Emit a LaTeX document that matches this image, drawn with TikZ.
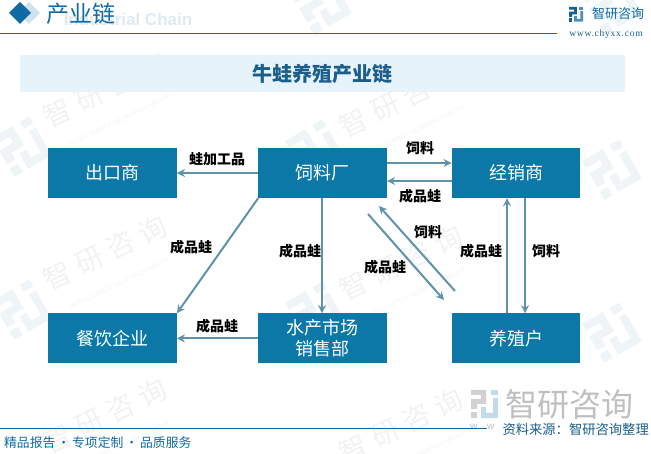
\documentclass[tikz,border=0pt]{standalone}
\usepackage{fontspec}
\setmainfont{Noto Sans CJK SC}
\newfontfamily\latinfont{Liberation Sans}
\newfontfamily\sitefont[LetterSpace=8]{Liberation Serif}
\newfontfamily\widefont[LetterSpace=98]{Liberation Sans}
\newfontfamily\markfont[LetterSpace=25]{Noto Sans CJK SC}
\usetikzlibrary{arrows.meta, positioning}
\definecolor{boxblue}{HTML}{0B78A8}
\definecolor{linkblue}{HTML}{5E93AB}
\definecolor{headblue}{HTML}{0F6AA6}
\definecolor{bandblue}{HTML}{E6F3FA}
\definecolor{titleblue}{HTML}{1B5E8C}
\definecolor{markgrey}{HTML}{F1F2F3}
\definecolor{markblue}{HTML}{EFF4F7}
\tikzset{
  chainbox/.style={rectangle, fill=boxblue, text=white, minimum width=128.5pt, minimum height=50pt,
                   align=center, inner sep=0pt, font=\fontsize{18}{21}\selectfont},
  link/.style={-{Stealth[length=8pt,width=8pt]}, line width=2pt, draw=linkblue},
  linklabel/.style={font=\fontsize{14}{16}\selectfont\bfseries, text=black, inner sep=0pt},
  watermark/.style={font=\markfont\fontsize{28}{29}\selectfont, text=markgrey, rotate=26, inner sep=0pt, align=center},
  logomark/.pic={
    \fill[logoleft] (0,0) -- (15,0) -- (15,14) -- (6,14) -- (6,19) -- (0,19) -- (0,9) -- (10,9) -- (10,5) -- (0,5) -- cycle;
    \fill[logoleft] (0,22) rectangle (6,28);
    \fill[logoright] (20,0) rectangle (27,5);
    \fill[logoright] (27,8) -- (27,28) -- (10,28) -- (10,17) -- (15,17) -- (15,23) -- (22,23) -- (22,8) -- cycle;
  },
}
\begin{document}
\begin{tikzpicture}[x=1pt, y=-1pt, node distance=115pt and 81.25pt]
  \useasboundingbox (0,0) rectangle (651,454);

  % --- watermarks ---
  \colorlet{logoleft}{markblue}
  \colorlet{logoright}{markblue}
  \foreach \wx/\wy in {22/147, 22/310, 315/150, 315/312, 612/170, 612/333, 322/5, 612/5}
    \pic[rotate=30, scale=1.6] at ({\wx-30},{\wy-9}) {logomark};
  \foreach \wx/\wy in {107/95, 107/258, 107/421, 403/105, 403/268, 403/431}
    \node[watermark] (mark\wx\wy) at ({\wx+3},{\wy+5}) {智研咨询\\[-3pt]{\latinfont\fontsize{6.5}{8}\selectfont INTELLIGENCE RESEARCH GROUP}};

  % --- header ---
  \node[text=headblue!14, font=\latinfont\fontsize{17}{20}\selectfont\bfseries, inner sep=0pt] (ghost) at (128,19) {Industrial Chain};
  \fill[headblue!20] (29,2) -- (40,13) -- (29,24) -- (18,13) -- cycle;
  \fill[headblue] (20,2) -- (31,13) -- (20,24) -- (9,13) -- cycle;
  \node[text=headblue, font=\fontsize{23}{24}\selectfont, inner sep=0pt] (head) at (81,14) {产业链};
  \draw[headblue, line width=1pt] (0,34) -- (557,34);
  \node[text=headblue, font=\fontsize{13}{14}\selectfont, inner sep=0pt] (brand) at (618,14) {智研咨询};
  \node[text=titleblue, font=\sitefont\fontsize{9.5}{10}\selectfont, inner sep=0pt] (site) at (606,34) {www.chyxx.com};
  \colorlet{logoleft}{titleblue}
  \colorlet{logoright}{headblue!75}
  \pic[scale=0.52] at (569,7) {logomark};

  % --- title ---
  \node[fill=bandblue, minimum width=605pt, minimum height=37pt, inner sep=0pt, text=titleblue,
        font=\fontsize{20}{22}\selectfont\bfseries] (title) at (322.5,73.5) {牛蛙养殖产业链};

  % --- boxes ---
  \node[chainbox] (export) at (112.5,173) {出口商};
  \node[chainbox, right=of export] (feed) {饲料厂};
  \node[chainbox, right=64.5pt of feed] (dealer) {经销商};
  \node[chainbox, below=of export] (dining) {餐饮企业};
  \node[chainbox, below=of feed] (market) {水产市场\\销售部};
  \node[chainbox, below=of dealer] (farm) {养殖户};

  \coordinate (farmup) at (455,291);
  \coordinate (feedin) at (379,206);
  \coordinate (feedout) at (368,214);
  \coordinate (farmin) at (444,300);

  \draw[link] (feed) -- (export);
  \draw[link] ([yshift=10pt]feed.east) -- ([yshift=10pt]dealer.west);
  \draw[link] ([yshift=-8pt]dealer.west) -- ([yshift=-8pt]feed.east);
  \draw[link] (feed.south west) -- (dining.north east);
  \draw[link] (feed.south -| 322,0) -- (market.north -| 322,0);
  \draw[link] (market) -- (dining);
  \draw[link] (farmup) -- (feedin);
  \draw[link] (feedout) -- (farmin);
  \draw[link] ([xshift=-9pt]farm.north) -- ([xshift=-9pt]dealer.south);
  \draw[link] ([xshift=9pt]dealer.south) -- ([xshift=9pt]farm.north);

  % --- labels ---
  \node[linklabel] (lab1) at (217,159) {蛙加工品};
  \node[linklabel] (lab2) at (420,148) {饲料};
  \node[linklabel] (lab3) at (420,196) {成品蛙};
  \node[linklabel] (lab4) at (191,247) {成品蛙};
  \node[linklabel] (lab5) at (300,251) {成品蛙};
  \node[linklabel] (lab6) at (217,326) {成品蛙};
  \node[linklabel] (lab7) at (428,232) {饲料};
  \node[linklabel] (lab8) at (385,267) {成品蛙};
  \node[linklabel] (lab9) at (481,251) {成品蛙};
  \node[linklabel] (lab10) at (546,251) {饲料};

  % --- footer ---
  \node[text=black!25, font=\fontsize{32}{33}\selectfont, inner sep=0pt] (biglogo) at (569.5,404) {智研咨询};
  \colorlet{logoleft}{black!18}
  \colorlet{logoright}{headblue!25}
  \pic at (471,390) {logomark};
  \node[text=black!25, font=\widefont\fontsize{10}{12}\selectfont, inner sep=0pt, anchor=west] (bigsite) at (470,427) {www.chyxx.com};
  \draw[headblue, line width=1pt] (0,428) -- (487,428);
  \node[fill=white, text=titleblue, font=\fontsize{13.3}{15}\selectfont, inner sep=0pt, anchor=east] (source) at (649,429) {资料来源：智研咨询整理};
  \node[text=headblue, font=\fontsize{12.8}{15}\selectfont, inner sep=0pt, anchor=west] (slogan) at (4,443) {精品报告\hspace{2pt}·\hspace{2pt}专项定制\hspace{2pt}·\hspace{2pt}品质服务};
\end{tikzpicture}
\end{document}
